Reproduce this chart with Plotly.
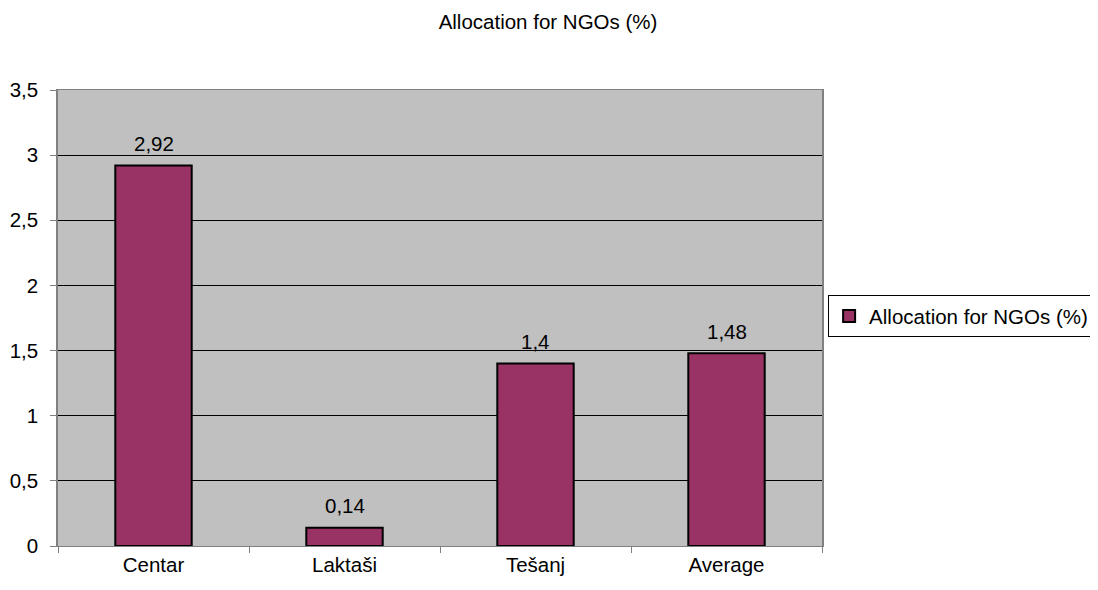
import plotly.graph_objects as go

categories = ["Centar", "Laktaši", "Tešanj", "Average"]
values = [2.92, 0.14, 1.4, 1.48]
series_name = "Allocation for NGOs (%)"
title_text = "Allocation for NGOs (%)"

labels = [str(v).replace(".", ",") for v in values]

FONT = "Liberation Sans, Arial"
FS = 20.5

fig = go.Figure()
fig.add_trace(go.Bar(
    x=categories, y=values, name=series_name,
    marker=dict(color="#993366", line=dict(color="black", width=2)),
    width=0.4, showlegend=True,
))

for c, v, t in zip(categories, values, labels):
    fig.add_annotation(x=c, y=v, text=t, showarrow=False, xref="x", yref="y",
                       yanchor="middle", yshift=22,
                       font=dict(family=FONT, size=FS, color="black"))

fig.update_layout(
    width=1090, height=582,
    margin=dict(l=50, r=276, t=82, b=44, autoexpand=False),
    paper_bgcolor="white", plot_bgcolor="#C0C0C0",
    separators=", ",
    font=dict(family=FONT, size=FS, color="black"),
    title=dict(text=title_text, x=540/1090, xref="container", xanchor="center",
               y=1 - 14/582, yref="container", yanchor="middle",
               font=dict(size=FS)),
    legend=dict(x=1.008, y=0.504, xanchor="left", yanchor="middle",
                bordercolor="black", borderwidth=1, bgcolor="white",
                font=dict(size=FS)),
)
fig.update_xaxes(
    showline=True, linecolor="#808080", linewidth=1, mirror=True,
    ticks="outside", tickson="boundaries", ticklen=6, tickcolor="#808080",
    showgrid=False,
)
fig.update_yaxes(
    range=[0, 3.5], dtick=0.5, tick0=0,
    showline=True, linecolor="#808080", linewidth=1.5, mirror=True,
    ticks="outside", ticklen=6, tickcolor="#808080", ticklabelstandoff=8,
    showgrid=True, gridcolor="black", gridwidth=1, zeroline=False,
)
fig.write_html("out.html")
